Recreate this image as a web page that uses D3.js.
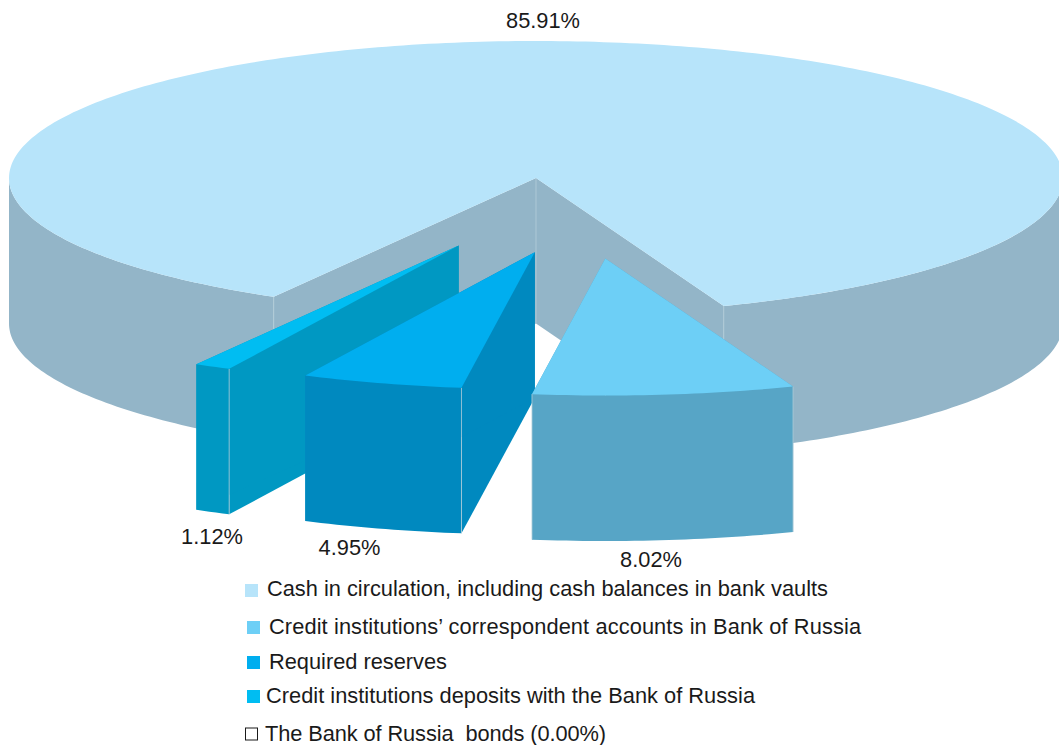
<!DOCTYPE html>
<html>
<head>
<meta charset="utf-8">
<script src="https://cdn.jsdelivr.net/npm/d3@7"></script>
<style>
    html, body { margin: 0; padding: 0; background: #fff; }
    svg { display: block; }
    text { font-family: "Liberation Sans", Arial, sans-serif; fill: #1a1a1a; }
</style>
</head>
<body>
<svg id="mainSvg" width="1059" height="745"></svg>
<script>
// * chart data
let categories = [
    'Cash in circulation, including cash balances in bank vaults',
    'Credit institutions’ correspondent accounts in Bank of Russia',
    'Required reserves',
    'Credit institutions deposits with the Bank of Russia',
    'The Bank of Russia  bonds (0.00%)'
]
let shares = [85.91, 8.02, 4.95, 1.12, 0.00]

// * styling, same order as the data
let topColors = ['#b7e4fa', '#6dcff6', '#00aeef', '#00bdf2', '#ffffff']
let wallColors = ['#93b5c8', '#57a5c6', '#0089bf', '#0098c2', '#ffffff']
let explodeX = [0, 69.3, -1.2, -77.3, 0]
let explodeY = [0, 80.5, 74.2, 67.5, 0]
let labelX = [543, 651, 349.5, 212]
let labelY = [28, 567, 555, 544]
let legendX = [245, 247, 247, 247, 245.5]
let legendY = [584, 621, 656, 690, 728]
let legendTextX = [267, 269, 269, 266, 265]
let legendTextY = [596, 634, 669, 703, 741]
let legendTextW = [561, 592, 178, 489, 341]

let svg = d3.select('#mainSvg')

// ellipse of the top face
let cx = 536, cy = 178, rx = 527, ry = 137, depth = 145.5
let lineColor = '#b4ced9'

let toRad = d3.scaleLinear().domain([0, 360]).range([0, 2 * Math.PI])
let pie = d3.pie().sort(null).startAngle(toRad(209.85)).endAngle(toRad(569.85))
let slices = pie(shares)

let project = function (a, dx, dy) {
    return [cx + dx + rx * Math.sin(a), cy + dy - ry * Math.cos(a)]
}
let line = d3.line()

// points along the rim from a0 to a1
let rim = function (a0, a1, dx, dy) {
    let n = Math.max(2, Math.ceil((a1 - a0) * 60))
    return d3.range(n + 1).map(i => project(a0 + (a1 - a0) * i / n, dx, dy))
}

let drawSlice = function (d, i) {
    let dx = explodeX[i], dy = explodeY[i]
    let g = svg.append('g').attr('class', 'slice')
    let apex = [cx + dx, cy + dy]
    let down = p => [p[0], p[1] + depth]
    let start = project(d.startAngle, dx, dy)
    let end = project(d.endAngle, dx, dy)

    // * inner faces
    ;[start, end].forEach(p => {
        g.append('path')
            .attr('d', line([apex, p, down(p), down(apex)]) + 'Z')
            .attr('fill', wallColors[i])
    })

    // * outer wall, only the front half of the rim shows
    let turns = d3.range(0, 3)
    turns.forEach(k => {
        let a0 = Math.max(d.startAngle, toRad(90 + 360 * k))
        let a1 = Math.min(d.endAngle, toRad(270 + 360 * k))
        if (a1 > a0) {
            let edge = rim(a0, a1, dx, dy)
            g.append('path')
                .attr('d', line(edge.concat(edge.map(down).reverse())) + 'Z')
                .attr('fill', wallColors[i])
        }
    })

    // * thin light edges between the faces
    let edges = i === 0 ? [apex, start, end] : (i === 1 ? [start, end] : [end])
    if (i === 2 || i === 3) edges = [start, end].filter(p => p[0] === d3.max([start, end], q => q[0]))
    edges.forEach(p => {
        g.append('path')
            .attr('d', line([p, down(p)]))
            .attr('stroke', lineColor)
            .attr('stroke-width', 0.8)
            .attr('fill', 'none')
    })

    // * top face
    g.append('path')
        .attr('d', line([apex].concat(rim(d.startAngle, d.endAngle, dx, dy))) + 'Z')
        .attr('fill', topColors[i])
}

// big slice first, then the pulled out ones from left to right
;[0, 3, 2, 1].forEach(i => drawSlice(slices[i], i))

// * value labels
svg.append('g')
    .selectAll('text')
    .data(shares.slice(0, 4))
    .enter()
    .append('text')
    .attr('x', (d, i) => labelX[i])
    .attr('y', (d, i) => labelY[i])
    .attr('text-anchor', 'middle')
    .attr('font-size', 21.8)
    .text(d => d.toFixed(2) + '%')

// * legend
let legend = svg.append('g').attr('class', 'legend')
legend.selectAll('rect')
    .data(categories)
    .enter()
    .append('rect')
    .attr('x', (d, i) => legendX[i])
    .attr('y', (d, i) => legendY[i])
    .attr('width', (d, i) => i === 4 ? 12 : 13)
    .attr('height', (d, i) => i === 4 ? 12 : 13)
    .attr('fill', (d, i) => topColors[i])
    .attr('stroke', (d, i) => i === 4 ? '#1a1a1a' : 'none')
    .attr('stroke-width', 1)

legend.selectAll('text')
    .data(categories)
    .enter()
    .append('text')
    .attr('x', (d, i) => legendTextX[i])
    .attr('y', (d, i) => legendTextY[i])
    .attr('font-size', 21.8)
    .attr('textLength', (d, i) => legendTextW[i])
    .attr('lengthAdjust', 'spacing')
    .attr('xml:space', 'preserve')
    .style('white-space', 'pre')
    .text(d => d)
</script>
</body>
</html>
